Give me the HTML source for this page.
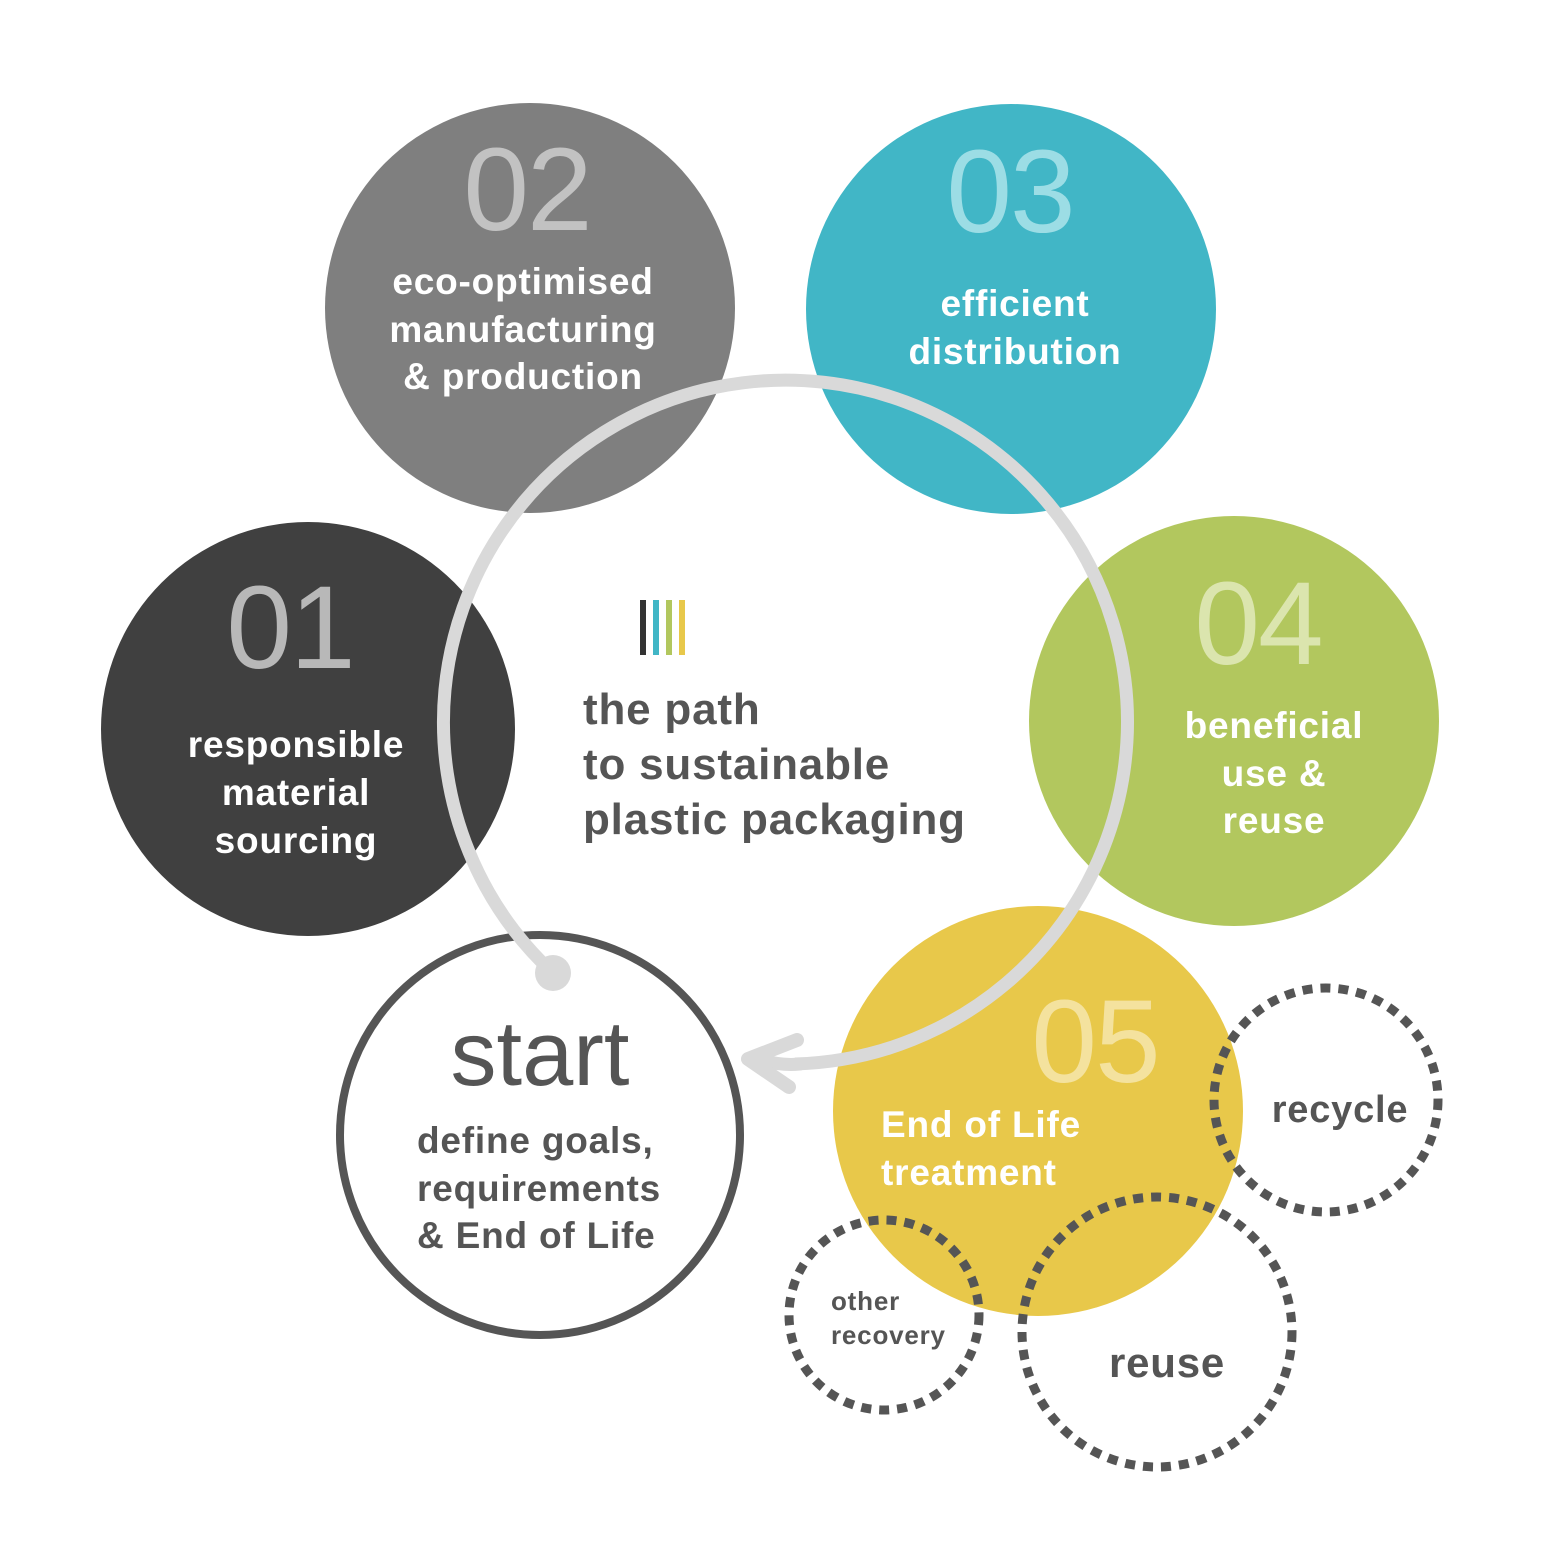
<!DOCTYPE html>
<html><head><meta charset="utf-8"><style>
html,body{margin:0;padding:0;background:#fff}
svg{display:block}
text{font-family:"Liberation Sans",sans-serif}
.n{font-size:118px;font-weight:normal;letter-spacing:-2px}
.w{font-size:37px;font-weight:bold;fill:#fff;letter-spacing:0.8px}
.g{font-weight:bold;fill:#555;letter-spacing:0.8px}
</style></head><body>
<svg width="1563" height="1563" viewBox="0 0 1563 1563" xmlns="http://www.w3.org/2000/svg">
<circle cx="530" cy="308" r="205" fill="#7f7f7f"/>
<circle cx="1011" cy="309" r="205" fill="#41b6c6"/>
<circle cx="308" cy="729" r="207" fill="#404040"/>
<circle cx="1234" cy="721" r="205" fill="#b2c75e"/>
<circle cx="1038" cy="1111" r="205" fill="#e8c84a"/>
<circle cx="540" cy="1135" r="200" fill="#fff" stroke="#555" stroke-width="8"/>

<text class="n" x="527" y="230" text-anchor="middle" fill="#c2c2c2">02</text>
<text class="w" x="523" y="294" text-anchor="middle">eco-optimised</text>
<text class="w" x="523" y="342" text-anchor="middle">manufacturing</text>
<text class="w" x="523" y="389" text-anchor="middle">&amp; production</text>

<text class="n" x="1010" y="232" text-anchor="middle" fill="#9cdde5">03</text>
<text class="w" x="1015" y="316" text-anchor="middle">efficient</text>
<text class="w" x="1015" y="364" text-anchor="middle">distribution</text>

<text class="n" x="290" y="668" text-anchor="middle" fill="#b8b8b8">01</text>
<text class="w" x="296" y="757" text-anchor="middle">responsible</text>
<text class="w" x="296" y="805" text-anchor="middle">material</text>
<text class="w" x="296" y="853" text-anchor="middle">sourcing</text>

<text class="n" x="1258" y="664" text-anchor="middle" fill="#dbe5ae">04</text>
<text class="w" x="1274" y="738" text-anchor="middle">beneficial</text>
<text class="w" x="1274" y="786" text-anchor="middle">use &amp;</text>
<text class="w" x="1274" y="833" text-anchor="middle">reuse</text>

<text class="n" x="1095" y="1082" text-anchor="middle" fill="#f4e29e">05</text>
<text class="w" x="881" y="1137">End of Life</text>
<text class="w" x="881" y="1185">treatment</text>

<text x="540" y="1085" text-anchor="middle" font-size="92" fill="#555">start</text>
<text class="g" x="417" y="1153" font-size="37">define goals,</text>
<text class="g" x="417" y="1201" font-size="37">requirements</text>
<text class="g" x="417" y="1248" font-size="37">&amp; End of Life</text>

<path d="M553,973 A342,342 0 1 1 795,1064" fill="none" stroke="#d9d9d9" stroke-width="13"/>
<path d="M800,1064 Q780,1066 758,1059" fill="none" stroke="#d9d9d9" stroke-width="13" stroke-linecap="round"/>
<path d="M797,1040 L748,1059 L789,1087" fill="none" stroke="#d9d9d9" stroke-width="14" stroke-linecap="round" stroke-linejoin="round"/>
<circle cx="553" cy="973" r="18" fill="#d9d9d9"/>

<rect x="640" y="600" width="6" height="55" fill="#333"/>
<rect x="653" y="600" width="6" height="55" fill="#41b6c6"/>
<rect x="666" y="600" width="6" height="55" fill="#b2c75e"/>
<rect x="679" y="600" width="6" height="55" fill="#e8c84a"/>
<text class="g" x="583" y="724" font-size="44">the path</text>
<text class="g" x="583" y="779" font-size="44">to sustainable</text>
<text class="g" x="583" y="834" font-size="44">plastic packaging</text>

<g fill="none" stroke="#555" stroke-width="9" stroke-dasharray="10 8">
<circle cx="1326" cy="1100" r="112"/>
<circle cx="1157" cy="1332" r="135"/>
<circle cx="884" cy="1315" r="95"/>
</g>
<text class="g" x="1340" y="1122" text-anchor="middle" font-size="38">recycle</text>
<text class="g" x="1167" y="1377" text-anchor="middle" font-size="42">reuse</text>
<text class="g" x="831" y="1310" font-size="26">other</text>
<text class="g" x="831" y="1344" font-size="26">recovery</text>
</svg>
</body></html>
